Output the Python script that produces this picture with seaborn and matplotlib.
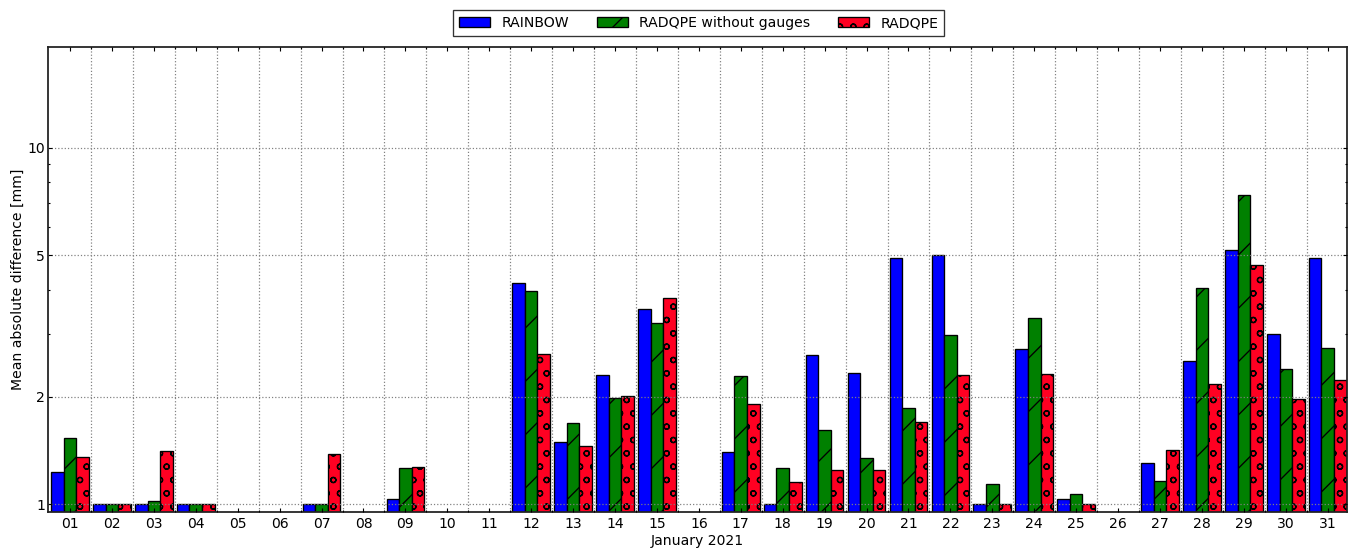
"""Mean absolute difference per day, January 2021."""
import matplotlib

matplotlib.use("Agg")
import matplotlib.pyplot as plt
import numpy as np
import pandas as pd
import seaborn as sns
from matplotlib.ticker import FixedLocator, NullFormatter

nan = np.nan

days = ["%02d" % d for d in range(1, 32)]
products = ["RAINBOW", "RADQPE without gauges", "RADQPE"]
colors = ["#0000ff", "#008000", "#ff0022"]
hatches = ["", "/", "oo"]

rainbow = [1.23, 1.0, 1.0, 1.0, nan, nan, 1.0, nan, 1.03, nan, nan,
           4.17, 1.49, 2.31, 3.54, nan, 1.40, 1.0, 2.62, 2.34, 4.92,
           5.01, 1.0, 2.73, 1.03, nan, 1.30, 2.52, 5.18, 3.00, 4.90]
radqpe_no_gauges = [1.53, 1.0, 1.02, 1.0, nan, nan, 1.0, nan, 1.26, nan, nan,
                    3.97, 1.69, 1.99, 3.23, nan, 2.29, 1.26, 1.61, 1.35, 1.865,
                    2.985, 1.14, 3.32, 1.07, nan, 1.16, 4.05, 7.39, 2.40, 2.74]
radqpe = [1.36, 1.0, 1.41, 1.0, nan, nan, 1.385, nan, 1.27, nan, nan,
          2.64, 1.46, 2.01, 3.78, nan, 1.91, 1.15, 1.25, 1.25, 1.705,
          2.31, 1.0, 2.32, 1.0, nan, 1.415, 2.18, 4.69, 1.97, 2.23]

DPI = 160
FS = 6.3


def build_frame():
    """Long form table for seaborn."""
    series = [rainbow, radqpe_no_gauges, radqpe]
    rows = []
    for name, values in zip(products, series):
        for day, v in zip(days, values):
            rows.append({"day": day, "product": name, "mad": v})
    return pd.DataFrame(rows)


def plot_daily_mad(df):
    """Grouped bars on a log axis."""
    plt.rcParams["font.family"] = ["DejaVu Sans"]
    plt.rcParams["hatch.linewidth"] = 0.6
    plt.rcParams["hatch.color"] = "black"

    fig = plt.figure(figsize=(1354 / DPI, 548 / DPI), dpi=DPI)
    ax = fig.add_axes([48 / 1354, 1 - 512 / 548, (1347 - 48) / 1354, (512 - 47) / 548])

    sns.barplot(data=df, x="day", y="mad", hue="product", order=days,
                hue_order=products, palette=colors, saturation=1, width=0.9,
                errorbar=None, edgecolor="black", linewidth=0.6,
                legend=False, log_scale=True, ax=ax)

    for bars, hatch in zip(ax.containers, hatches):
        for patch in bars:
            patch.set_hatch(hatch)

    ax.set_yscale("log")
    ax.set_ylim(0.95, 19.2)
    ax.set_xlim(-0.525, 30.46)
    ax.yaxis.set_major_locator(FixedLocator([1, 2, 5, 10]))
    ax.set_yticklabels(["1", "2", "5", "10"])
    ax.yaxis.set_minor_formatter(NullFormatter())
    ax.xaxis.set_minor_locator(FixedLocator(np.arange(0.5, 30, 1.0)))

    ax.grid(True, which="major", axis="y", color="0.5", linestyle=":", linewidth=0.55)
    ax.grid(True, which="minor", axis="x", color="0.5", linestyle=":", linewidth=0.55)
    ax.set_axisbelow(False)

    ax.tick_params(which="both", direction="in", top=True, right=True,
                   labelsize=FS, colors="black", width=0.5)
    ax.tick_params(which="major", length=2.0)
    ax.tick_params(axis="x", which="major", pad=2.2)
    ax.tick_params(axis="y", which="major", pad=1.4)
    ax.tick_params(which="minor", length=1.1)
    for spine in ax.spines.values():
        spine.set_linewidth(0.8)
        spine.set_color("#222222")

    ax.set_xlabel("January 2021", fontsize=FS, labelpad=1.5)
    ax.set_ylabel("Mean absolute difference [mm]", fontsize=FS, labelpad=1.0)

    ax.legend(ax.containers, products, loc="lower center",
              bbox_to_anchor=(0.501, 1.023), ncol=3, fontsize=FS,
              fancybox=False, frameon=True, edgecolor="black",
              handlelength=2.2, handleheight=0.75, handletextpad=0.8,
              columnspacing=2.0, borderpad=0.45, borderaxespad=0.0)
    ax.get_legend().get_frame().set_linewidth(0.6)

    fig.savefig("out.png", dpi=DPI)


plot_daily_mad(build_frame())
